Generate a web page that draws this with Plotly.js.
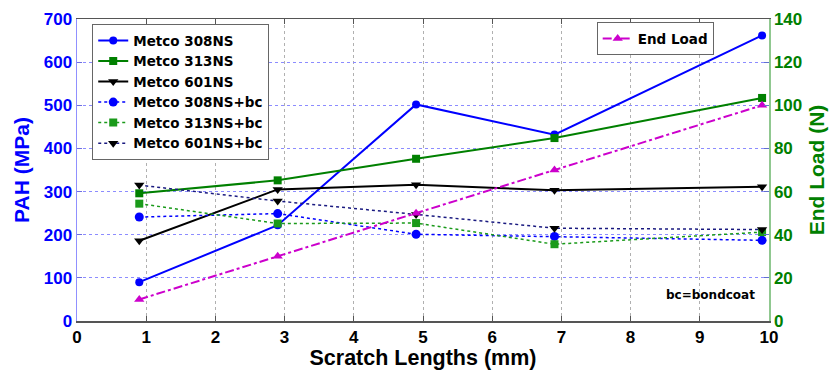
<!DOCTYPE html>
<html>
<head>
<meta charset="utf-8">
<script src="https://cdn.plot.ly/plotly-3.0.1.min.js"></script>
<style>html,body{margin:0;padding:0;background:#fff;}#chart{width:830px;height:370px;}</style>
</head>
<body>
<div id="chart"></div>
<script>
const scratchLength = [0.9, 2.9, 4.9, 6.9, 9.9];
const metco308NS = [90, 222, 502, 432, 662];
const metco313NS = [296, 326, 376, 424, 517];
const metco601NS = [186, 305, 316, 303, 311];
const metco308NSbc = [241, 249, 201, 196, 187];
const metco313NSbc = [272, 226, 227, 178, 206];
const metco601NSbc = [315, 278, 247, 215, 212];
const endLoad = [10, 30, 50, 70, 100];
const xTicks = [0,1,2,3,4,5,6,7,8,9,10];

const legFont = {family: 'DejaVu Sans', size: 13.5, color: '#000', weight: 'bold'};
function tr(name, y, color, dash, symbol, width, msize) {
  return {x: scratchLength, y: y, name: name, type: 'scatter', mode: 'lines+markers',
    line: {color: color, dash: dash, width: width},
    marker: {symbol: symbol, size: msize, color: color}, legend: 'legend'};
}
const data = [
  tr('Metco 308NS', metco308NS, '#0000ff', 'solid', 'circle', 2, 8),
  tr('Metco 313NS', metco313NS, '#008000', 'solid', 'square', 2, 8),
  tr('Metco 601NS', metco601NS, '#000000', 'solid', 'triangle-down', 2, 9),
  tr('Metco 308NS+bc', metco308NSbc, '#0000ff', 'dot', 'circle', 1.5, 9),
  tr('Metco 313NS+bc', metco313NSbc, '#1a9a1a', 'dot', 'square', 1.5, 8),
  Object.assign(tr('Metco 601NS+bc', metco601NSbc, '#1a1a80', 'dot', 'triangle-down', 1.5, 9), {marker: {symbol: 'triangle-down', size: 9, color: '#000'}}),
  {x: scratchLength, y: endLoad, name: 'End Load', type: 'scatter', mode: 'lines+markers', yaxis: 'y2',
   line: {color: '#cc00cc', dash: 'dashdot', width: 2},
   marker: {symbol: 'triangle-up', size: 9, color: '#cc00cc'}, legend: 'legend2'}
];
const layout = {
  width: 830, height: 370,
  margin: {l: 77, r: 61, t: 19, b: 49},
  paper_bgcolor: '#fff', plot_bgcolor: '#fff',
  font: {family: 'Liberation Sans', weight: 'bold'},
  xaxis: {range: [0, 10], tickvals: xTicks, ticktext: xTicks.map(String),
    showgrid: true, gridcolor: '#b0b0b0', griddash: 'dot', gridwidth: 1,
    showline: true, linecolor: '#555', linewidth: 1.5, mirror: 'ticks',
    ticks: 'inside', ticklen: 5, tickcolor: '#555', zeroline: false,
    tickfont: {family: 'Liberation Sans', size: 17, color: '#000', weight: 'bold'},
    title: {text: 'Scratch Lengths (mm)', font: {family: 'Liberation Sans', size: 21.5, color: '#000', weight: 'bold'}, standoff: 2}},
  yaxis: {range: [0, 700], dtick: 100, tick0: 0,
    showgrid: true, gridcolor: '#8c8cff', griddash: 'dot', gridwidth: 1,
    showline: true, linecolor: '#9090ff', linewidth: 1.5, zeroline: false,
    ticks: 'inside', ticklen: 5, tickcolor: '#7070e0',
    tickfont: {family: 'Liberation Sans', size: 17, color: '#0000ff', weight: 'bold'},
    title: {text: 'PAH (MPa)', font: {family: 'Liberation Sans', size: 21, color: '#0000ff', weight: 'bold'}, standoff: 8}},
  yaxis2: {range: [0, 140], dtick: 20, tick0: 0, overlaying: 'y', side: 'right',
    showgrid: false, showline: true, linecolor: '#90c890', linewidth: 1.5, zeroline: false,
    ticks: 'inside', ticklen: 5, tickcolor: '#6070d0',
    tickfont: {family: 'Liberation Sans', size: 17, color: '#008000', weight: 'bold'},
    title: {text: 'End Load (N)', font: {family: 'Liberation Sans', size: 21, color: '#008000', weight: 'bold'}, standoff: 8}},
  legend: {x: 0.022, y: 0.983, xanchor: 'left', yanchor: 'top', bgcolor: '#fff',
    bordercolor: '#666', borderwidth: 1, font: legFont, itemwidth: 30, tracegroupgap: 0},
  legend2: {x: 0.751, y: 0.989, xanchor: 'left', yanchor: 'top', bgcolor: '#fff',
    bordercolor: '#666', borderwidth: 1, font: legFont, itemwidth: 30},
  annotations: [{x: 0.983, y: 0.086, xref: 'paper', yref: 'paper', xanchor: 'right', yanchor: 'middle',
    text: 'bc=bondcoat', showarrow: false, font: {family: 'DejaVu Sans', size: 12, color: '#000', weight: 'bold'}}],
  showlegend: true
};
Plotly.newPlot('chart', data, layout, {staticPlot: true, displayModeBar: false});
</script>
</body>
</html>
